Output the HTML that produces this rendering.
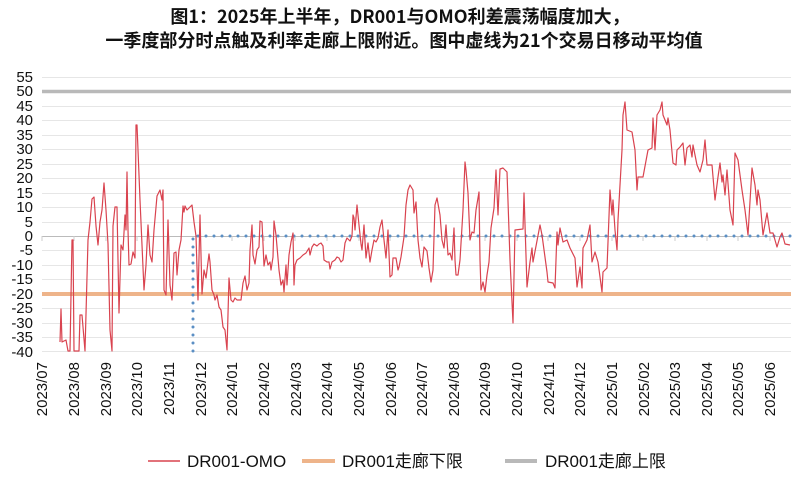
<!DOCTYPE html>
<html><head><meta charset="utf-8"><style>
html,body{margin:0;padding:0;background:#fff;}
svg{display:block;font-family:"Liberation Sans","Noto Sans CJK SC",sans-serif;}
</style></head><body>
<svg width="800" height="484" viewBox="0 0 800 484" xmlns="http://www.w3.org/2000/svg">
<text x="400" y="23" text-anchor="middle" font-size="18" font-weight="bold" font-family="'Noto Sans CJK SC',sans-serif" fill="#111">图1：2025年上半年，DR001与OMO利差震荡幅度加大，</text>
<text x="404" y="47" text-anchor="middle" font-size="18" font-weight="bold" font-family="'Noto Sans CJK SC',sans-serif" fill="#111">一季度部分时点触及利率走廊上限附近。图中虚线为21个交易日移动平均值</text>
<g stroke="#e6e6e6" stroke-width="1">
<line x1="42" x2="791" y1="77.5" y2="77.5"/><line x1="42" x2="791" y1="106.5" y2="106.5"/><line x1="42" x2="791" y1="120.5" y2="120.5"/><line x1="42" x2="791" y1="135.5" y2="135.5"/><line x1="42" x2="791" y1="149.5" y2="149.5"/><line x1="42" x2="791" y1="164.5" y2="164.5"/><line x1="42" x2="791" y1="178.5" y2="178.5"/><line x1="42" x2="791" y1="193.5" y2="193.5"/><line x1="42" x2="791" y1="207.5" y2="207.5"/><line x1="42" x2="791" y1="222.5" y2="222.5"/><line x1="42" x2="791" y1="250.5" y2="250.5"/><line x1="42" x2="791" y1="265.5" y2="265.5"/><line x1="42" x2="791" y1="279.5" y2="279.5"/><line x1="42" x2="791" y1="308.5" y2="308.5"/><line x1="42" x2="791" y1="323.5" y2="323.5"/><line x1="42" x2="791" y1="337.5" y2="337.5"/><line x1="42" x2="791" y1="351.5" y2="351.5"/>
</g>
<line x1="42" x2="791" y1="236.5" y2="236.5" stroke="#bbb" stroke-width="1"/>
<g stroke="#ccc" stroke-width="1">
<line x1="42" x2="42" y1="236" y2="241"/><line x1="74" x2="74" y1="236" y2="241"/><line x1="106" x2="106" y1="236" y2="241"/><line x1="137" x2="137" y1="236" y2="241"/><line x1="169" x2="169" y1="236" y2="241"/><line x1="200" x2="200" y1="236" y2="241"/><line x1="232" x2="232" y1="236" y2="241"/><line x1="264" x2="264" y1="236" y2="241"/><line x1="295" x2="295" y1="236" y2="241"/><line x1="327" x2="327" y1="236" y2="241"/><line x1="359" x2="359" y1="236" y2="241"/><line x1="390" x2="390" y1="236" y2="241"/><line x1="422" x2="422" y1="236" y2="241"/><line x1="454" x2="454" y1="236" y2="241"/><line x1="485" x2="485" y1="236" y2="241"/><line x1="517" x2="517" y1="236" y2="241"/><line x1="548" x2="548" y1="236" y2="241"/><line x1="580" x2="580" y1="236" y2="241"/><line x1="612" x2="612" y1="236" y2="241"/><line x1="643" x2="643" y1="236" y2="241"/><line x1="675" x2="675" y1="236" y2="241"/><line x1="707" x2="707" y1="236" y2="241"/><line x1="738" x2="738" y1="236" y2="241"/><line x1="770" x2="770" y1="236" y2="241"/>
</g>
<line x1="42" x2="791" y1="91.5" y2="91.5" stroke="#b9b9b9" stroke-width="3.5"/>
<line x1="42" x2="791" y1="294" y2="294" stroke="#eeb48a" stroke-width="4"/>
<g fill="none" stroke="#5b8fc4" stroke-width="3" stroke-linecap="round" stroke-dasharray="0 8">
<polyline points="193,351 193,236 791,236"/>
</g>
<polyline fill="none" stroke="#d9434f" stroke-width="1.2" stroke-linejoin="round" points="60,342 61,309 62,342 66,340 68,351 70,351 72,240 73,240 74,351 79,351 80,315 82,315 85,351 88,240 90,222 92,199 94,197 96,226 98,245 100,222 102,210 104,183 106,210 108,244 110,330 112,351 113,226 115,207 117,207 119,313 121,245 123,250 125,215 126,230 127,172 128,230 129,265 131,264 133,252 135,258 136,125 137,125 140,200 144,290 146,265 148,225 150,255 152,262 154,230 157,196 160,190 162,200 163,190 164,290 166,295 168,220 170,285 172,300 174,253 176,252 177,275 179,250 181,240 183,206 184,212 185,206 187,210 190,207 192,205 194,222 196,236 198,300 200,215 202,294 204,270 206,278 209,254 210,262 212,290 214,295 215,300 217,295 219,307 221,310 223,327 225,330 227,350 229,278 231,300 233,302 235,298 237,300 239,300 241,300 243,283 245,276 247,290 249,283 250,250 252,225 253,255 255,264 257,250 259,247 260,221 262,222 264,266 266,255 268,265 270,262 271,270 273,257 274,221 276,235 279,270 281,285 283,280 284,292 286,265 287,285 289,255 291,242 293,233 294,285 295,265 297,260 300,258 303,255 306,253 309,248 310,255 312,247 314,244 317,246 319,244 321,243 323,246 324,260 327,262 329,262 330,269 332,262 335,260 337,257 339,258 341,262 343,260 345,243 347,238 350,241 352,236 353,215 354,218 355,230 357,205 359,225 361,244 362,250 364,225 366,258 368,243 370,262 372,250 374,240 376,242 378,238 380,227 382,220 384,240 386,258 388,230 390,277 392,275 393,258 396,258 398,270 399,267 401,257 404,237 406,205 408,190 410,185 413,190 414,213 416,202 418,240 420,258 422,267 424,247 427,251 429,268 431,282 433,270 435,205 437,198 440,215 442,240 444,248 446,225 448,255 450,253 452,260 454,228 455,260 456,275 458,275 460,260 463,210 465,162 466,170 468,193 470,240 472,232 474,233 476,210 479,192 480,260 481,290 483,282 485,292 487,275 489,262 491,228 494,208 496,170 498,215 500,169 503,168 507,172 510,260 513,323 515,230 523,229 524,193 527,287 530,262 532,248 533,262 540,225 542,235 547,272 548,282 553,283 555,288 557,232 558,245 560,228 563,242 567,240 570,248 575,258 577,287 580,267 582,288 583,248 587,240 590,225 592,262 595,252 598,262 602,292 603,272 607,268 610,190 612,215 613,200 615,230 617,250 618,220 620,185 622,150 623,115 625,102 627,130 632,132 635,150 637,190 638,177 643,177 648,150 652,148 653,118 655,150 657,115 660,110 662,102 663,115 667,125 668,118 670,130 673,163 676,165 677,150 680,147 683,143 685,165 687,148 690,145 692,157 693,145 697,165 700,172 703,160 705,140 707,165 712,165 715,200 718,177 720,163 722,182 723,175 725,195 727,170 730,210 733,225 735,153 738,160 742,190 745,210 748,235 752,168 755,185 757,205 758,190 760,200 763,235 767,213 770,233 773,233 777,247 780,237 782,233 785,244 790,245"/>
<g font-size="15" fill="#111" text-anchor="end">
<text x="33" y="82">55</text><text x="33" y="96">50</text><text x="33" y="111">45</text><text x="33" y="125">40</text><text x="33" y="140">35</text><text x="33" y="154">30</text><text x="33" y="169">25</text><text x="33" y="183">20</text><text x="33" y="198">15</text><text x="33" y="212">10</text><text x="33" y="227">5</text><text x="33" y="241">0</text><text x="33" y="255">-5</text><text x="33" y="270">-10</text><text x="33" y="284">-15</text><text x="33" y="299">-20</text><text x="33" y="313">-25</text><text x="33" y="328">-30</text><text x="33" y="342">-35</text><text x="33" y="357">-40</text>
</g>
<g font-size="15" fill="#111" text-anchor="end">
<text transform="translate(47,362) rotate(-90)">2023/07</text>
<text transform="translate(79,362) rotate(-90)">2023/08</text>
<text transform="translate(111,362) rotate(-90)">2023/09</text>
<text transform="translate(142,362) rotate(-90)">2023/10</text>
<text transform="translate(174,362) rotate(-90)">2023/11</text>
<text transform="translate(206,362) rotate(-90)">2023/12</text>
<text transform="translate(237,362) rotate(-90)">2024/01</text>
<text transform="translate(269,362) rotate(-90)">2024/02</text>
<text transform="translate(301,362) rotate(-90)">2024/03</text>
<text transform="translate(332,362) rotate(-90)">2024/04</text>
<text transform="translate(364,362) rotate(-90)">2024/05</text>
<text transform="translate(396,362) rotate(-90)">2024/06</text>
<text transform="translate(427,362) rotate(-90)">2024/07</text>
<text transform="translate(459,362) rotate(-90)">2024/08</text>
<text transform="translate(490,362) rotate(-90)">2024/09</text>
<text transform="translate(522,362) rotate(-90)">2024/10</text>
<text transform="translate(554,362) rotate(-90)">2024/11</text>
<text transform="translate(585,362) rotate(-90)">2024/12</text>
<text transform="translate(617,362) rotate(-90)">2025/01</text>
<text transform="translate(649,362) rotate(-90)">2025/02</text>
<text transform="translate(680,362) rotate(-90)">2025/03</text>
<text transform="translate(712,362) rotate(-90)">2025/04</text>
<text transform="translate(743,362) rotate(-90)">2025/05</text>
<text transform="translate(775,362) rotate(-90)">2025/06</text>
</g>
<line x1="148" x2="180" y1="461" y2="461" stroke="#d9434f" stroke-width="1.5"/>
<text x="187" y="467" font-size="17" fill="#111">DR001-OMO</text>
<line x1="302" x2="335" y1="461" y2="461" stroke="#eeb48a" stroke-width="4"/>
<text x="342" y="467" font-size="17" fill="#111">DR001走廊下限</text>
<line x1="505" x2="537" y1="461" y2="461" stroke="#b9b9b9" stroke-width="4"/>
<text x="545" y="467" font-size="17" fill="#111">DR001走廊上限</text>
</svg>
</body></html>
